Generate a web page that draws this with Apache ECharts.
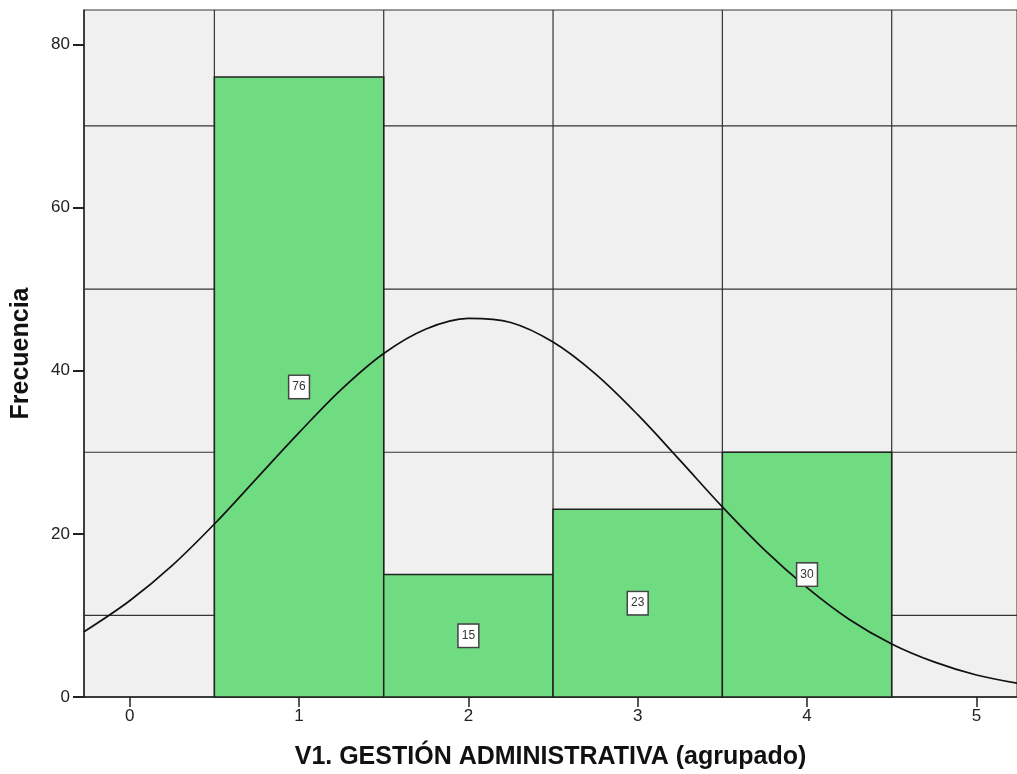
<!DOCTYPE html>
<html>
<head>
<meta charset="utf-8">
<script src="https://cdn.jsdelivr.net/npm/echarts@6/dist/echarts.min.js"></script>
<style>
  html, body { margin: 0; padding: 0; background: #fff; }
  #chart { width: 1017px; height: 774px; }
</style>
</head>
<body>
<div id="chart"></div>
<script>
// histogram bins (category centre) and frequencies
var binCenters = [1, 2, 3, 4];
var frequencies = [76, 15, 23, 30];

// normal curve
var curveX = [-0.27, 0, 0.25, 0.5, 0.75, 1, 1.25, 1.5, 1.75, 2, 2.25, 2.5, 2.75, 3, 3.25, 3.5, 3.75, 4, 4.25, 4.5, 4.75, 5, 5.24];
var curveY = [8.0, 11.8, 16.1, 21.2, 26.8, 32.4, 37.7, 42.1, 45.1, 46.4, 45.9, 43.5, 39.6, 34.6, 29.0, 23.3, 18.0, 13.4, 9.5, 6.5, 4.3, 2.7, 1.7];

// tick labels and reference lines
var xTicks = [0, 1, 2, 3, 4, 5];
var yTicks = [0, 20, 40, 60, 80];
var vGrid = [0.5, 1.5, 2.5, 3.5, 4.5];
var hGrid = [10, 30, 50, 70];

var xMin = -0.27, xMax = 5.24;
var yMin = 0, yMax = 84.2;

var chart = echarts.init(document.getElementById("chart"));

var gridLines = [];
vGrid.forEach(function (v) { gridLines.push(["v", v]); });
hGrid.forEach(function (v) { gridLines.push(["h", v]); });

var option = {
  animation: false,
  grid: {
    left: 84,
    right: 0,
    top: 10,
    bottom: 77,
    outerBoundsMode: "none",
    show: true,
    backgroundColor: "#f0f0f0",
    borderColor: "#333",
    borderWidth: 1
  },
  xAxis: {
    type: "value",
    min: xMin,
    max: xMax,
    name: "V1. GESTIÓN ADMINISTRATIVA (agrupado)",
    nameLocation: "middle",
    nameGap: 48,
    nameTextStyle: {
      fontFamily: "Liberation Sans",
      fontWeight: "bold",
      fontSize: 25,
      color: "#111"
    },
    axisLine: { show: true, onZero: false, lineStyle: { color: "#222", width: 1.5 } },
    axisTick: { show: true, length: 10, customValues: xTicks, lineStyle: { color: "#222", width: 1.5 } },
    axisLabel: {
      customValues: xTicks,
      margin: 11,
      fontFamily: "Liberation Sans",
      fontSize: 17,
      color: "#222"
    },
    splitLine: { show: false }
  },
  yAxis: {
    type: "value",
    min: yMin,
    max: yMax,
    name: "Frecuencia",
    nameLocation: "middle",
    nameGap: 50,
    nameTextStyle: {
      fontFamily: "Liberation Sans",
      fontWeight: "bold",
      fontSize: 25,
      color: "#111"
    },
    axisLine: { show: true, onZero: false, lineStyle: { color: "#222", width: 1.5 } },
    axisTick: { show: true, length: 11, customValues: yTicks, lineStyle: { color: "#222", width: 2 } },
    axisLabel: {
      customValues: yTicks,
      margin: 14,
      fontFamily: "Liberation Sans",
      fontSize: 17,
      color: "#222"
    },
    splitLine: { show: false }
  },
  series: [
    {
      // reference grid at the bin edges and half steps
      type: "custom",
      z: 1,
      silent: true,
      data: gridLines,
      renderItem: function (params, api) {
        var kind = gridLines[params.dataIndex][0];
        var v = gridLines[params.dataIndex][1];
        var p1, p2;
        if (kind === "v") {
          p1 = api.coord([v, yMin]);
          p2 = api.coord([v, yMax]);
        } else {
          p1 = api.coord([xMin, v]);
          p2 = api.coord([xMax, v]);
        }
        return {
          type: "line",
          shape: { x1: p1[0], y1: p1[1], x2: p2[0], y2: p2[1] },
          style: { stroke: "#333", lineWidth: 1.2 }
        };
      }
    },
    {
      // histogram bars
      type: "custom",
      z: 2,
      silent: true,
      data: binCenters.map(function (c, i) { return [c, frequencies[i]]; }),
      renderItem: function (params, api) {
        var c = api.value(0);
        var f = api.value(1);
        var tl = api.coord([c - 0.5, f]);
        var br = api.coord([c + 0.5, 0]);
        return {
          type: "rect",
          shape: { x: tl[0], y: tl[1], width: br[0] - tl[0], height: br[1] - tl[1] },
          style: { fill: "#70dc82", stroke: "#222", lineWidth: 1.5 }
        };
      }
    },
    {
      // normal curve
      type: "line",
      z: 3,
      silent: true,
      smooth: 0.35,
      symbol: "none",
      data: curveX.map(function (x, i) { return [x, curveY[i]]; }),
      lineStyle: { color: "#111", width: 1.7 }
    },
    {
      // frequency labels
      type: "custom",
      z: 4,
      silent: true,
      data: binCenters.map(function (c, i) { return [c, frequencies[i]]; }),
      renderItem: function (params, api) {
        var c = api.value(0);
        var f = api.value(1);
        var p = api.coord([c, f / 2]);
        return {
          type: "text",
          x: p[0],
          y: p[1],
          style: {
            text: String(f),
            align: "center",
            verticalAlign: "middle",
            fontFamily: "Liberation Sans",
            fontSize: 12,
            fill: "#333",
            backgroundColor: "#fff",
            borderColor: "#444",
            borderWidth: 1.5,
            padding: [5, 3, 5, 3]
          }
        };
      }
    }
  ]
};

chart.setOption(option);
</script>
</body>
</html>
